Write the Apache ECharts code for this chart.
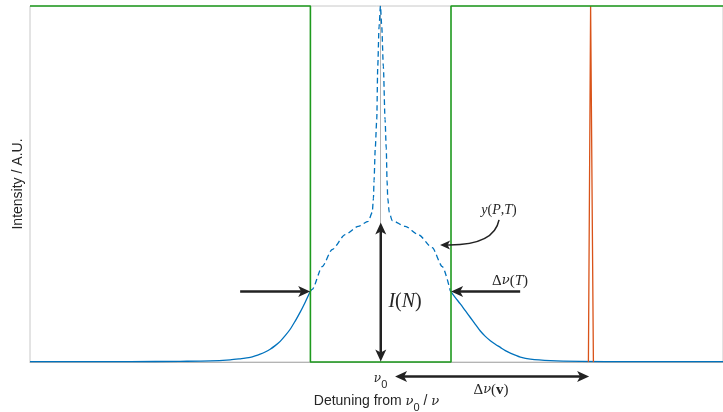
<!DOCTYPE html>
<html><head><meta charset="utf-8">
<script src="https://cdn.jsdelivr.net/npm/echarts@6/dist/echarts.min.js"></script>
<style>html,body{margin:0;padding:0;background:#fff}#c{width:723px;height:412px}</style>
</head><body><div id="c"></div>
<script>
// ---- data (detuning units, intensity normalised) ----
const leftWingX  = [-35, -25, -20, -17, -15, -14, -13.5, -13, -12.5, -12, -11.5, -11, -10.5, -10, -9.5, -9, -8.5, -8, -7.5, -7.0];
const leftWingY  = [0.001, 0.001, 0.002, 0.003, 0.006, 0.009, 0.011, 0.013, 0.017, 0.022, 0.028, 0.036, 0.046, 0.058, 0.074, 0.092, 0.115, 0.14, 0.168, 0.198];
const centerX = [-7.0, -6.8, -5.8, -4.8, -3.5, -2.2, -1.2, -0.8, -0.68, -0.62, -0.5, -0.35, -0.25, -0.12, 0.02, 0.15, 0.31, 0.48, 0.6, 0.68, 0.75, 0.9, 1.2, 2.5, 3.8, 5.2, 6.2, 7.0];
const centerY = [0.198, 0.204, 0.268, 0.316, 0.358, 0.381, 0.395, 0.42, 0.46, 0.51, 0.6, 0.681, 0.83, 0.942, 1.0, 0.942, 0.83, 0.681, 0.6, 0.51, 0.46, 0.42, 0.397, 0.381, 0.358, 0.321, 0.268, 0.2];
const rightWingX = [7.0, 7.5, 8, 8.5, 9, 9.5, 10, 10.5, 11, 11.5, 12, 12.5, 13, 14, 15, 17, 20, 25, 34.25];
const rightWingY = [0.2, 0.181, 0.163, 0.144, 0.125, 0.106, 0.087, 0.072, 0.06, 0.05, 0.041, 0.032, 0.025, 0.014, 0.008, 0.004, 0.002, 0.001, 0.001];
const spikeX = [20.8, 21.02, 21.3];
const spikeY = [0, 1, 0];
const wellX = [-35, -6.98, -6.98, 7.07, 7.07, 34.25];
const wellY = [1, 1, 0, 0, 1, 1];

// ---- annotations (data coordinates) ----
const arrowFromX = [-14.0, 13.98, 0.05, 1.48];
const arrowFromY = [0.198, 0.198, 0.0014, -0.041];
const arrowToX   = [-7.0, 7.08, 0.05, 20.87];
const arrowToY   = [0.198, 0.198, 0.392, -0.041];
const arrowBoth  = [false, false, true, true];
const curveX = [11.87, 11.37, 5.98];
const curveY = [0.399, 0.326, 0.329];
const labelText = ['{i|I}{r|(}{i|N}{r|)}', '{i|y}{r|(}{i|P}{r|,}{i|T}{r|)}', '{r|Δ}{g|ν}{r|(}{i|T}{r|)}', '{r|Δ}{g|ν}{r|(}{b|v}{r|)}', '{g|ν}{s|0}'];
const labelX = [2.48, 11.87, 12.97, 11.07, 0.03];
const labelY = [0.169, 0.425, 0.228, -0.079, -0.047];
const labelSize = [20, 14, 15, 15, 14];

const blue = '#0072BD', orange = '#D95319', green = '#1E9A1E', ink = '#222222', txt = '#262626';
const zip = (a, b) => a.map((v, i) => [v, b[i]]);

const chart = echarts.init(document.getElementById('c'));
const lineBase = { type: 'line', symbol: 'none', clip: false, silent: true };
chart.setOption({
  animation: false,
  grid: { left: 30, right: 0, top: 6, bottom: 50, show: true, borderColor: '#c8c8c8', borderWidth: 1, containLabel: false, outerBoundsMode: 'none' },
  xAxis: {
    type: 'value', min: -35, max: 34.25,
    axisLine: { show: true, lineStyle: { color: '#b4b4b4', width: 1 } },
    axisTick: { show: false }, axisLabel: { show: false }, splitLine: { show: false },
    name: 'Detuning from {nu|ν}{sub|0} / {nu|ν}', nameLocation: 'middle', nameGap: 28,
    nameTextStyle: {
      fontFamily: 'Liberation Sans', fontSize: 14, color: txt,
      rich: {
        nu: { fontFamily: 'DejaVu Serif', fontStyle: 'italic', fontSize: 13, color: txt },
        sub: { fontFamily: 'Liberation Sans', fontSize: 11, color: txt, verticalAlign: 'bottom', padding: [12, 0, 0, 0] }
      }
    }
  },
  yAxis: {
    type: 'value', min: 0, max: 1,
    axisLine: { show: true, lineStyle: { color: '#b4b4b4', width: 1 } },
    axisTick: { show: false }, axisLabel: { show: false }, splitLine: { show: false },
    name: 'Intensity / A.U.', nameLocation: 'middle', nameGap: 5,
    nameTextStyle: { fontFamily: 'Liberation Sans', fontSize: 14, color: txt }
  },
  series: [
    Object.assign({}, lineBase, { data: zip(leftWingX, leftWingY), smooth: 0.3, lineStyle: { color: blue, width: 1.3 } }),
    Object.assign({}, lineBase, { data: zip(centerX, centerY), smooth: 0.25, smoothMonotone: 'x', lineStyle: { color: blue, width: 1.3, type: [5.5, 3.5] } }),
    Object.assign({}, lineBase, { data: zip(rightWingX, rightWingY), smooth: 0.3, lineStyle: { color: blue, width: 1.3 } }),
    Object.assign({}, lineBase, { data: zip(spikeX, spikeY), lineStyle: { color: orange, width: 1.3 } }),
    Object.assign({}, lineBase, { data: zip(wellX, wellY), lineStyle: { color: green, width: 1.6 } })
  ]
});

const P = p => chart.convertToPixel({ gridIndex: 0 }, p);
function head(tip, from, len, wid) {
  const dx = tip[0] - from[0], dy = tip[1] - from[1], L = Math.hypot(dx, dy);
  const ux = dx / L, uy = dy / L, nx = -uy, ny = ux;
  const bx = tip[0] - ux * len, by = tip[1] - uy * len;
  const notch = [tip[0] - ux * len * 0.75, tip[1] - uy * len * 0.75];
  return { type: 'polygon', z: 100, shape: { points: [tip, [bx + nx * wid / 2, by + ny * wid / 2], notch, [bx - nx * wid / 2, by - ny * wid / 2]] }, style: { fill: ink } };
}
const g = [];
for (let i = 0; i < arrowFromX.length; i++) {
  const a = P([arrowFromX[i], arrowFromY[i]]), b = P([arrowToX[i], arrowToY[i]]);
  const dx = b[0] - a[0], dy = b[1] - a[1], L = Math.hypot(dx, dy), ux = dx / L, uy = dy / L;
  const len = 12, wid = 11, cut = len * 0.72;
  const s = arrowBoth[i] ? [a[0] + ux * cut, a[1] + uy * cut] : a;
  const e = [b[0] - ux * cut, b[1] - uy * cut];
  g.push({ type: 'line', z: 99, shape: { x1: s[0], y1: s[1], x2: e[0], y2: e[1] }, style: { stroke: ink, lineWidth: 2.5 } });
  g.push(head(b, a, len, wid));
  if (arrowBoth[i]) g.push(head(a, b, len, wid));
}
const c0 = P([curveX[0], curveY[0]]), c1 = P([curveX[1], curveY[1]]), c2 = P([curveX[2], curveY[2]]);
const cl = Math.hypot(c2[0] - c1[0], c2[1] - c1[1]);
const cEnd = [c2[0] + (c1[0] - c2[0]) / cl * 6, c2[1] + (c1[1] - c2[1]) / cl * 6];
g.push({ type: 'bezierCurve', z: 99, shape: { x1: c0[0], y1: c0[1], cpx1: c1[0], cpy1: c1[1], x2: cEnd[0], y2: cEnd[1] }, style: { stroke: ink, lineWidth: 1.5, fill: null } });
g.push(head(c2, c1, 10, 9));
for (let i = 0; i < labelText.length; i++) {
  const p = P([labelX[i], labelY[i]]), fs = labelSize[i];
  g.push({ type: 'text', z: 101, x: p[0], y: p[1], style: {
    text: labelText[i], align: 'center', verticalAlign: 'middle', fill: txt,
    fontFamily: 'Liberation Serif', fontSize: fs,
    rich: {
      i: { fontFamily: 'Liberation Serif', fontStyle: 'italic', fontSize: fs, fill: txt },
      g: { fontFamily: 'DejaVu Serif', fontStyle: 'italic', fontSize: fs - 2, fill: txt },
      r: { fontFamily: 'Liberation Serif', fontSize: fs, fill: txt },
      b: { fontFamily: 'Liberation Serif', fontWeight: 'bold', fontSize: fs, fill: txt },
      s: { fontFamily: 'Liberation Sans', fontSize: fs - 3, fill: txt, verticalAlign: 'bottom', padding: [12, 0, 0, 0] }
    }
  } });
}
chart.setOption({ graphic: g });
</script>
</body></html>
